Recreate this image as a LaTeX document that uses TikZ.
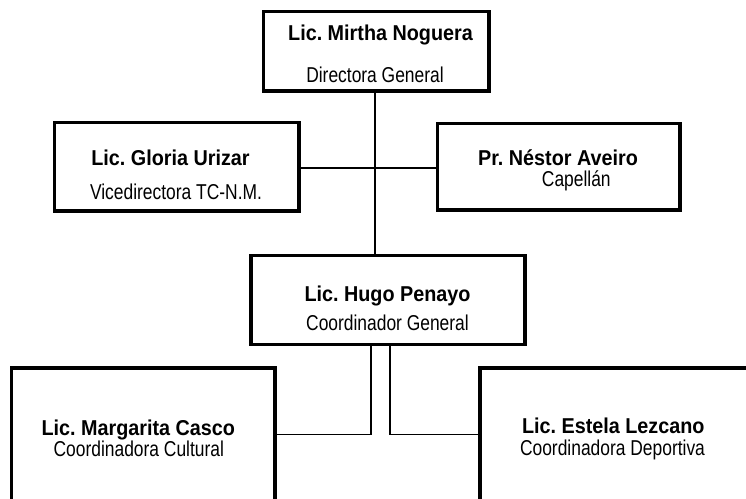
\documentclass[tikz,border=0pt]{standalone}
\usepackage{fontspec}
\setmainfont{Liberation Sans}
\newfontfamily\namefont{Liberation Sans}[FakeStretch=0.92]
\newfontfamily\rolefont{Liberation Sans}[FakeStretch=0.81]
\frenchspacing
\begin{document}
\begin{tikzpicture}[x=1pt,y=-1pt,
  box/.style={draw, rectangle, line width=3.2pt, inner sep=0pt, outer sep=0pt},
  conn/.style={line width=1.5pt},
  nm/.style={anchor=base, inner sep=0pt, font=\namefont\bfseries\fontsize{21.5}{25}\selectfont},
  rl/.style={anchor=base, inner sep=0pt, font=\rolefont\fontsize{21.5}{25}\selectfont}]
\useasboundingbox (0,0) rectangle (746,498);
\clip (0,0) rectangle (746,498);
% boxes
\node[box, minimum width=225.5pt, minimum height=79.5pt] (mirtha) at (376.25,51.25) {};
\node[box, minimum width=244.5pt, minimum height=88.5pt] (gloria) at (176.75,166.75) {};
\node[box, minimum width=242.5pt, minimum height=86.5pt] (nestor) at (558.75,166.75) {};
\node[box, minimum width=274pt, minimum height=89pt] (hugo) at (388,300) {};
\node[box, minimum width=263.5pt, minimum height=162pt] (margarita) at (143.25,449) {};
\node[box, minimum width=280pt, minimum height=162pt] (estela) at (620,449) {};
% helper coordinates
\coordinate (vx) at (375,0);
\coordinate (hl) at (0,168);
\coordinate (lx) at (371,0);
\coordinate (rx) at (390,0);
\coordinate (hb) at (0,434.5);
% connectors
\draw[conn] (mirtha.south -| vx) -- (hugo.north -| vx);
\draw[conn] (gloria.east |- hl) -- (nestor.west |- hl);
\draw[conn] (hugo.south -| lx) |- (margarita.east |- hb);
\draw[conn] (hugo.south -| rx) |- (estela.west |- hb);
% texts
\node[nm] (t1) at (380.5,40.7) {Lic. Mirtha Noguera};
\node[rl] (r1) at (375,82.5) {Directora General};
\node[nm] (t2) at (170.5,165.7) {Lic. Gloria Urizar};
\node[rl] (r2) at (176,199.3) {Vicedirectora TC-N.M.};
\node[nm] (t3) at (558,165) {Pr. Néstor Aveiro};
\node[rl] (r3) at (576.3,186) {Capellán};
\node[nm] (t4) at (387.5,301.7) {Lic. Hugo Penayo};
\node[rl] (r4) at (387.5,330.7) {Coordinador General};
\node[nm] (t5) at (138.3,435) {Lic. Margarita Casco};
\node[rl] (r5) at (138.8,456.7) {Coordinadora Cultural};
\node[nm] (t6) at (613.3,433.3) {Lic. Estela Lezcano};
\node[rl] (r6) at (612.5,455) {Coordinadora Deportiva};
\end{tikzpicture}
\end{document}
